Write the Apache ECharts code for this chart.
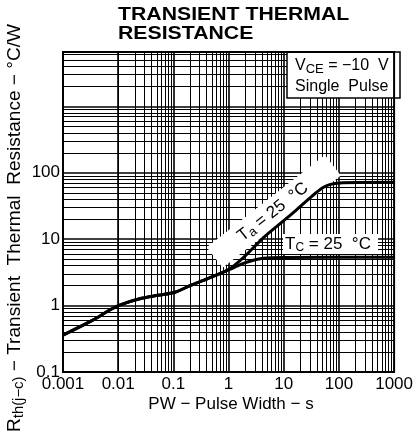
<!DOCTYPE html>
<html>
<head>
<meta charset="utf-8">
<script src="https://cdn.jsdelivr.net/npm/echarts@6/dist/echarts.min.js"></script>
<style>
  html, body { margin: 0; padding: 0; background: #fff; }
  #chart { width: 416px; height: 440px; }
</style>
</head>
<body>
<div id="chart"></div>
<script>
// axis ticks (log scale, labelled decades)
const xTicks = [0.001, 0.01, 0.1, 1, 10, 100, 1000];
const yTicks = [0.1, 1, 10, 100];
const yMax = 6600;
const gridSteps = [2, 3, 4, 5, 6, 7, 8, 9];

// Ta = 25 C curve (junction to ambient)
const widthTa = [0.001, 0.0034, 0.0069, 0.0103, 0.0265, 0.053, 0.107, 0.206, 0.42, 1.0, 2.0, 4.27, 10, 16.5, 33, 50, 70, 120, 1000];
const rthTa = [0.36, 0.60, 0.85, 1.01, 1.29, 1.43, 1.59, 2.02, 2.55, 3.5, 5.6, 10.5, 19, 27, 45, 59, 67, 71, 72];

// Tc = 25 C curve (junction to case)
const widthTc = [0.001, 0.0034, 0.0069, 0.0103, 0.0265, 0.053, 0.107, 0.206, 0.42, 1.0, 1.5, 2.12, 4.27, 10.9, 1000];
const rthTc = [0.36, 0.60, 0.85, 1.01, 1.29, 1.43, 1.59, 2.02, 2.55, 3.45, 4.0, 4.5, 5.15, 5.3, 5.35];

const FONT = '"Liberation Sans", Arial, sans-serif';

const zip = (xs, ys) => xs.map((x, i) => [x, ys[i]]);
const tickLabel = (ticks) => (v) => {
    const t = ticks.find(t => Math.abs(Math.log10(v) - Math.log10(t)) < 1e-6);
    return t === undefined ? '' : String(t);
};

// paper-style log grid lines
const gridLines = [];
xTicks.forEach((d, i) => {
    if (i > 0 && i < xTicks.length - 1) gridLines.push({ xAxis: d, lineStyle: { width: 1.6 } });
    if (i < xTicks.length - 1) gridSteps.forEach(s => gridLines.push({ xAxis: d * s }));
});
[0.1, 1, 10, 100, 1000].forEach((d, i) => {
    if (i > 0) gridLines.push({ yAxis: d, lineStyle: { width: 1.6 } });
    gridSteps.forEach(s => { if (d * s < yMax) gridLines.push({ yAxis: d * s }); });
});

const chart = echarts.init(document.getElementById('chart'));

chart.setOption({
    animation: false,
    backgroundColor: '#fff',
    grid: { left: 63, top: 52, width: 337, height: 320, show: true, borderColor: '#000', borderWidth: 2, backgroundColor: 'transparent', z: 10 },
    xAxis: {
        type: 'log', logBase: 10, min: 0.001, max: 1000,
        axisLine: { show: false }, axisTick: { show: false }, splitLine: { show: false },
        axisLabel: { color: '#000', fontFamily: FONT, fontSize: 17, margin: 4, formatter: tickLabel(xTicks), showMinLabel: true, showMaxLabel: true }
    },
    yAxis: {
        type: 'log', logBase: 10, min: 0.1, max: yMax,
        axisLine: { show: false }, axisTick: { show: false }, splitLine: { show: false },
        axisLabel: { color: '#000', fontFamily: FONT, fontSize: 17, margin: 3, formatter: tickLabel(yTicks), showMinLabel: true, showMaxLabel: true }
    },
    series: [
        {
            name: 'grid', type: 'line', z: 1, silent: true, symbol: 'none',
            data: [[0.001, 0.1]],
            markLine: {
                z: 1, silent: true, symbol: 'none', animation: false,
                label: { show: false },
                lineStyle: { color: '#000', width: 1, type: 'solid', opacity: 1 },
                emphasis: { disabled: true },
                data: gridLines
            }
        },
        {
            name: 'Ta', type: 'line', z: 6, showSymbol: false, smooth: 0.3,
            lineStyle: { color: '#000', width: 3 },
            data: zip(widthTa, rthTa)
        },
        {
            name: 'Tc', type: 'line', z: 6, showSymbol: false, smooth: 0.3,
            lineStyle: { color: '#000', width: 3 },
            data: zip(widthTc, rthTc)
        }
    ],
    graphic: [
        {
            type: 'text', x: 118, y: 6, scaleX: 1.18, z: 3,
            style: { text: 'TRANSIENT THERMAL\nRESISTANCE', font: 'bold 18px ' + FONT, fill: '#000', lineHeight: 19 }
        },
        {
            type: 'text', x: 15, y: 228, rotation: Math.PI / 2, scaleX: 1.06, z: 3,
            style: {
                text: '{m|R}{s|th(j−c)}{m| − Transient  Thermal  Resistance − °C/W}',
                align: 'center', verticalAlign: 'middle',
                rich: {
                    m: { fontFamily: FONT, fontSize: 18, lineHeight: 22, fill: '#000' },
                    s: { fontFamily: FONT, fontSize: 14, lineHeight: 12, verticalAlign: 'bottom', fill: '#000' }
                }
            }
        },
        {
            type: 'text', x: 231, y: 404, z: 3,
            style: { text: 'PW − Pulse Width − s', font: '17px ' + FONT, fill: '#000', align: 'center', verticalAlign: 'middle' }
        },
        {
            type: 'rect', z: 3, shape: { x: 287, y: 52, width: 113, height: 46 },
            style: { fill: '#fff', stroke: '#000', lineWidth: 1.5 }
        },
        {
            type: 'text', x: 295, y: 66, z: 4,
            style: {
                text: '{m|V}{s|CE}{m| = −10  V}', verticalAlign: 'middle',
                rich: {
                    m: { fontFamily: FONT, fontSize: 16, lineHeight: 20, fill: '#000' },
                    s: { fontFamily: FONT, fontSize: 13, lineHeight: 12, verticalAlign: 'bottom', fill: '#000' }
                }
            }
        },
        {
            type: 'text', x: 295, y: 87, z: 4,
            style: { text: 'Single  Pulse', font: '16px ' + FONT, fill: '#000', verticalAlign: 'middle' }
        },
        {
            type: 'rect', z: 3, shape: { x: 283, y: 234, width: 95, height: 20 },
            style: { fill: '#fff' }
        },
        {
            type: 'text', x: 328, y: 244, z: 4,
            style: {
                text: '{m|T}{s|C}{m| = 25  °C}', align: 'center', verticalAlign: 'middle',
                rich: {
                    m: { fontFamily: FONT, fontSize: 17, lineHeight: 20, fill: '#000' },
                    s: { fontFamily: FONT, fontSize: 12, lineHeight: 11, verticalAlign: 'bottom', fill: '#000' }
                }
            }
        },
        {
            type: 'group', x: 273, y: 212, rotation: 38 * Math.PI / 180, z: 3,
            children: [
                { type: 'rect', z: 3, shape: { x: -74, y: -13, width: 150, height: 26 }, style: { fill: '#fff' } },
                {
                    type: 'text', x: 0, y: 0, z: 4,
                    style: {
                        text: '{m|T}{s|a}{m| = 25  °C}', align: 'center', verticalAlign: 'middle',
                        rich: {
                            m: { fontFamily: FONT, fontSize: 17, lineHeight: 20, fill: '#000' },
                            s: { fontFamily: FONT, fontSize: 13, lineHeight: 11, verticalAlign: 'bottom', fill: '#000' }
                        }
                    }
                }
            ]
        }
    ]
});
</script>
</body>
</html>
